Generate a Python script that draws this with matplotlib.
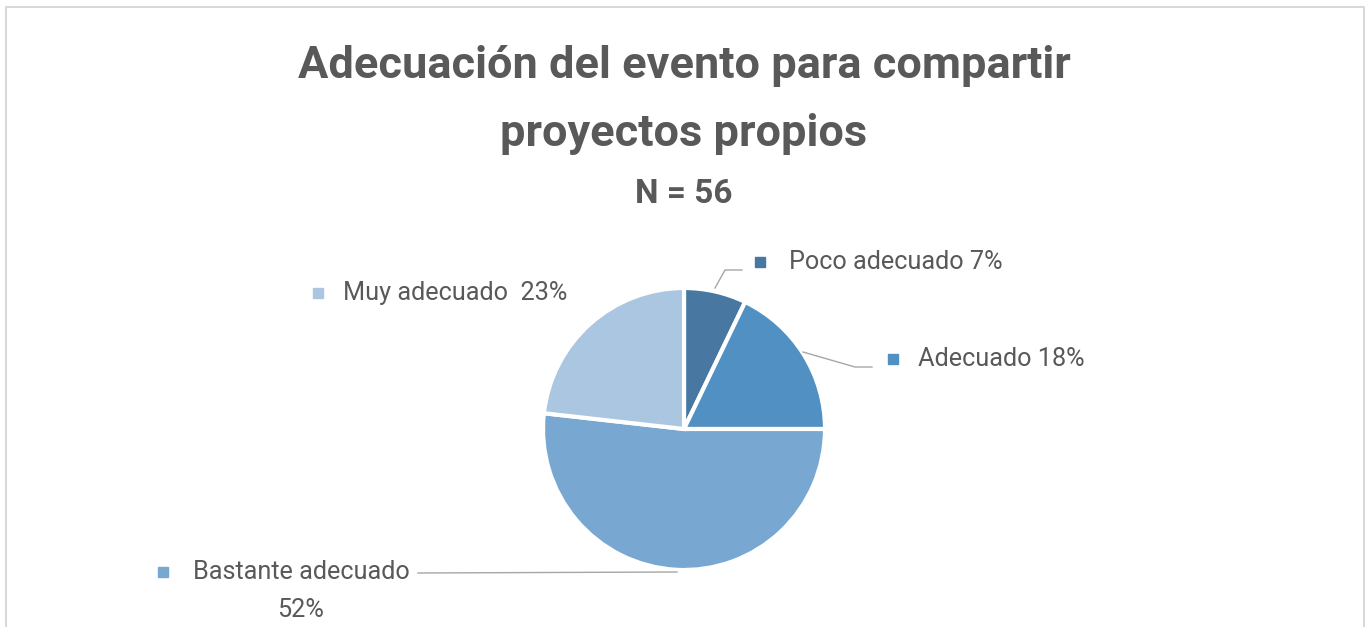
import numpy as np
import matplotlib.pyplot as plt
from matplotlib.patches import Rectangle

plt.rcParams['font.family'] = ['Roboto', 'DejaVu Sans']

categories = ['Poco adecuado', 'Adecuado', 'Bastante adecuado', 'Muy adecuado']
counts = [4, 10, 29, 13]
pct_labels = ['7%', '18%', '52%', '23%']
colors = ['#4878a2', '#5190c2', '#78a8d2', '#abc6e0']

W, H = 1369, 627
fig = plt.figure(figsize=(W / 100, H / 100), dpi=100)
ax = fig.add_axes([0, 0, 1, 1])

# chart frame (bottom cut off)
ax.plot([6, 6, 1364, 1364], [H + 5, 7, 7, H + 5], color='#d9d9d9', lw=1.5)

# y axis runs downward, so angles are mirrored: start at -90 and go counterclockwise
cx, cy, r = 684, 429, 141
wedges, _ = ax.pie(counts, colors=colors, startangle=-90, counterclock=True,
                   center=(cx, cy), radius=r, frame=True,
                   wedgeprops=dict(edgecolor='white', linewidth=3))
ax.set_xlim(0, W)
ax.set_ylim(H, 0)
ax.set_aspect('equal')
ax.axis('off')

txt = '#595959'
ax.text(684, 66, 'Adecuación del evento para compartir', ha='center', va='center',
        fontsize=32.5, fontweight='bold', color=txt)
ax.text(684, 134, 'proyectos propios', ha='center', va='center',
        fontsize=32.5, fontweight='bold', color=txt)
ax.text(684, 194, 'N = 56', ha='center', va='center',
        fontsize=24, fontweight='bold', color=txt)

lc = '#a6a6a6'
fs = 18.2
# Poco adecuado
ax.plot([715, 725, 742], [288, 270, 270], color=lc, lw=1)
ax.add_patch(Rectangle((755, 257), 10, 10, color=colors[0]))
ax.text(789, 262, f'{categories[0]} {pct_labels[0]}', va='center', fontsize=fs, color=txt)
# Adecuado
ax.plot([803, 855, 872], [352, 367, 367], color=lc, lw=1)
ax.add_patch(Rectangle((888, 354), 10, 10, color=colors[1]))
ax.text(918, 359, f'{categories[1]} {pct_labels[1]}', va='center', fontsize=fs, color=txt)
# Bastante adecuado
ax.plot([418, 677], [573, 572], color=lc, lw=1)
ax.add_patch(Rectangle((158, 567), 10, 10, color=colors[2]))
ax.text(193, 572, categories[2], va='center', fontsize=fs, color=txt)
ax.text(301, 610, pct_labels[2], va='center', ha='center', fontsize=fs, color=txt)
# Muy adecuado
ax.add_patch(Rectangle((313, 288), 10, 10, color=colors[3]))
ax.text(343, 293, f'{categories[3]}  {pct_labels[3]}', va='center', fontsize=fs, color=txt)

fig.savefig('out.png', dpi=100)
